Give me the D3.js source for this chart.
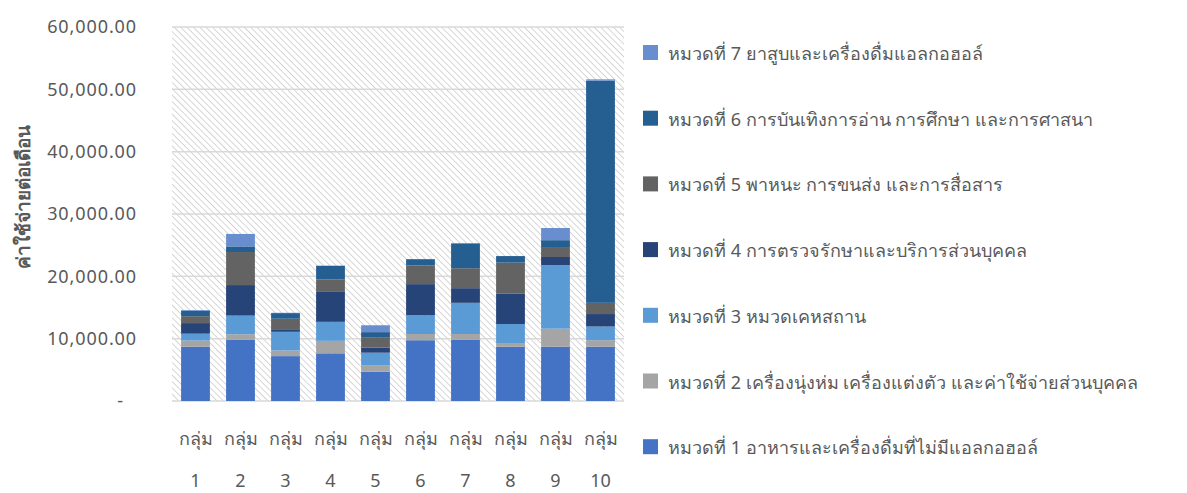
<!DOCTYPE html>
<html lang="th">
<head>
<meta charset="UTF-8">
<title>ค่าใช้จ่ายต่อเดือน</title>
<script src="https://d3js.org/d3.v7.min.js"></script>
<style>
  body { margin: 0; background: #fff; }
  text { font-family: "Noto Sans", "DejaVu Sans", sans-serif; fill: #595959; }
</style>
</head>
<body>
<script>
// ข้อมูล
var groups = ["กลุ่ม 1", "กลุ่ม 2", "กลุ่ม 3", "กลุ่ม 4", "กลุ่ม 5",
              "กลุ่ม 6", "กลุ่ม 7", "กลุ่ม 8", "กลุ่ม 9", "กลุ่ม 10"];

var seriesNames = [
  "หมวดที่ 1 อาหารและเครื่องดื่มที่ไม่มีแอลกอฮอล์",
  "หมวดที่ 2 เครื่องนุ่งห่ม เครื่องแต่งตัว และค่าใช้จ่ายส่วนบุคคล",
  "หมวดที่ 3 หมวดเคหสถาน",
  "หมวดที่ 4 การตรวจรักษาและบริการส่วนบุคคล",
  "หมวดที่ 5 พาหนะ การขนส่ง และการสื่อสาร",
  "หมวดที่ 6 การบันเทิงการอ่าน การศึกษา และการศาสนา",
  "หมวดที่ 7 ยาสูบและเครื่องดื่มแอลกอฮอล์"
];

var cat1 = [8700, 9800, 7200, 7650, 4700, 9750, 9800, 8700, 8700, 8700];
var cat2 = [1000,  900,  900, 2000, 1050, 1000,  950,  600, 2900, 1050];
var cat3 = [1100, 3000, 3000, 3050, 2000, 3000, 5000, 3050, 10200, 2200];
var cat4 = [1700, 4900,  300, 4800,  800, 5000, 2350, 4850, 1300, 2000];
var cat5 = [1100, 5300, 1800, 2000, 1600, 3000, 3200, 5000, 1600, 1800];
var cat6 = [ 900,  900,  900, 2200,  900, 1000, 3900, 1050, 1100, 35650];
var cat7 = [ 100, 2000,   50,    0, 1100,    0,  150,    0, 1950,  200];

var yTicks = [0, 10000, 20000, 30000, 40000, 50000, 60000];

var colors = ["#4472C4", "#A5A5A5", "#5B9BD5", "#264478", "#636363", "#255E91", "#698ED0"];

var allSeries = [cat1, cat2, cat3, cat4, cat5, cat6, cat7];
var keys = ["c1", "c2", "c3", "c4", "c5", "c6", "c7"];
var table = groups.map(function (g, i) {
  var row = { group: g };
  keys.forEach(function (k, j) { row[k] = allSeries[j][i]; });
  return row;
});

var width = 1187, height = 493;
var margin = { left: 173, right: 564, top: 27, bottom: 92 };

var svg = d3.select("body").append("svg")
  .attr("width", width)
  .attr("height", height);

// ลายเส้นทแยงพื้นหลัง
var defs = svg.append("defs");
var pat = defs.append("pattern")
  .attr("id", "hatch")
  .attr("patternUnits", "userSpaceOnUse")
  .attr("width", 4.5).attr("height", 4.5)
  .attr("patternTransform", "rotate(-45)");
pat.append("rect").attr("width", 4.5).attr("height", 4.5).attr("fill", "#fff");
pat.append("line").attr("x1", 0).attr("y1", 0).attr("x2", 0).attr("y2", 4.5)
  .attr("stroke", "#d2d2d2").attr("stroke-width", 1.8);

var x = d3.scaleBand()
  .domain(groups)
  .range([margin.left, width - margin.right])
  .paddingInner(0.36)
  .paddingOuter(0.18);

var y = d3.scaleLinear()
  .domain([0, 60000])
  .range([height - margin.bottom, margin.top]);

svg.append("rect")
  .attr("x", margin.left - 1)
  .attr("y", margin.top)
  .attr("width", width - margin.right - margin.left + 2)
  .attr("height", y(0) - margin.top)
  .attr("fill", "url(#hatch)");

// เส้นกริด
svg.append("g").selectAll("line")
  .data(yTicks)
  .enter().append("line")
  .attr("x1", margin.left - 1)
  .attr("x2", width - margin.right + 1)
  .attr("y1", function (d) { return y(d); })
  .attr("y2", function (d) { return y(d); })
  .attr("stroke", "#d9d9d9")
  .attr("stroke-width", 1.5);

// แกน Y
var yAxis = d3.axisLeft(y)
  .tickValues(yTicks)
  .tickSize(0)
  .tickPadding(36)
  .tickFormat(function (d) { return d === 0 ? "-" : d3.format(",.2f")(d); });

var gy = svg.append("g")
  .attr("transform", "translate(" + margin.left + ",0)")
  .call(yAxis);
gy.select(".domain").remove();
gy.selectAll("text")
  .style("font-size", "18px")
  .style("letter-spacing", "0.9px")
  .attr("fill", "#666")
  .attr("dx", function (d) { return d === 0 ? -13 : 0; });

svg.append("text")
  .attr("transform", "translate(30,197) rotate(-90)")
  .attr("text-anchor", "middle")
  .style("font-size", "19px")
  .style("font-weight", "bold")
  .text("ค่าใช้จ่ายต่อเดือน");

// แท่งซ้อน
var stack = d3.stack().keys(keys);
var layers = stack(table);

svg.append("g").selectAll("g")
  .data(layers)
  .enter().append("g")
  .attr("fill", function (d, i) { return colors[i]; })
  .selectAll("rect")
  .data(function (d) { return d; })
  .enter().append("rect")
  .attr("x", function (d) { return x(d.data.group); })
  .attr("y", function (d) { return y(d[1]); })
  .attr("width", x.bandwidth())
  .attr("height", function (d) { return y(d[0]) - y(d[1]); });

// แกน X (สองบรรทัด)
var gx = svg.append("g")
  .attr("transform", "translate(0," + y(0) + ")")
  .call(d3.axisBottom(x).tickSize(0).tickFormat(""));
gx.select(".domain").remove();
gx.selectAll(".tick").each(function (d) {
  var parts = d.split(" ");
  var t = d3.select(this).append("text")
    .attr("text-anchor", "middle")
    .attr("fill", "#595959")
    .style("font-size", "18px");
  t.append("tspan").attr("x", 0).attr("y", 44).text(parts[0]);
  t.append("tspan").attr("x", 0).attr("y", 86).text(parts[1]);
});

// คำอธิบาย
var legendOrder = [6, 5, 4, 3, 2, 1, 0];
var lg = svg.append("g").attr("transform", "translate(643,0)");
var items = lg.selectAll("g")
  .data(legendOrder)
  .enter().append("g")
  .attr("transform", function (d, i) { return "translate(0," + (53 + i * 65.7) + ")"; });
items.append("rect")
  .attr("x", 0).attr("y", -8)
  .attr("width", 15).attr("height", 15)
  .attr("fill", function (d) { return colors[d]; });
items.append("text")
  .attr("x", 25).attr("y", 7)
  .style("font-size", "18px")
  .text(function (d) { return seriesNames[d]; });
</script>
</body>
</html>
